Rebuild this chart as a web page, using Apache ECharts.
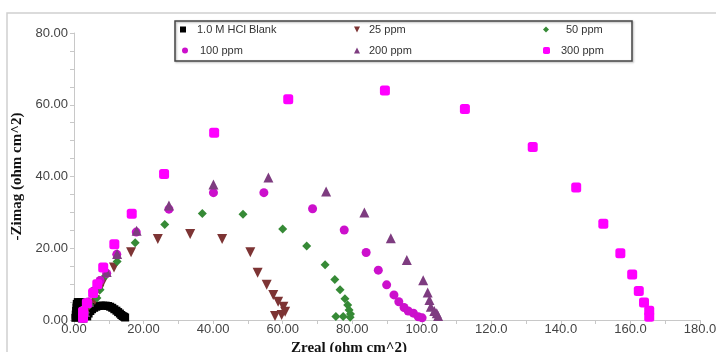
<!DOCTYPE html>
<html>
<head>
<meta charset="utf-8">
<title>Nyquist</title>
<script src="https://cdn.jsdelivr.net/npm/echarts@6/dist/echarts.min.js"></script>
<style>
    html, body { margin: 0; padding: 0; background: #fff; }
    #main { width: 716px; height: 352px; }
</style>
</head>
<body>
<div id="main"></div>
<script>
// 系列名称
var seriesNames = ['1.0 M HCl Blank', '25 ppm', '50 ppm', '100 ppm', '200 ppm', '300 ppm'];

// [Zreal, -Zimag]
var blank = [
    [0.4, 0.6], [0.5, 1.5], [0.6, 2.5], [0.7, 3.5], [0.8, 4.5], [1.1, 5.0], [1.9, 5.0],
    [3.8, 1.0], [4.2, 1.8], [4.7, 2.5], [5.2, 3.0], [5.8, 3.4], [6.4, 3.7], [7.0, 3.9],
    [7.7, 4.0], [8.4, 4.0], [9.1, 4.0], [9.8, 3.9], [10.4, 3.7], [11.0, 3.4], [11.6, 3.0],
    [12.2, 2.6], [12.7, 2.2], [13.2, 1.8], [13.6, 1.4], [14.0, 1.1], [14.4, 0.9], [14.7, 0.7]
];
var ppm25 = [
    [2.6, 0.5], [3.5, 2.5], [4.8, 4.5], [6.0, 5.6], [7.3, 8.4], [8.4, 10.7], [11.5, 14.6],
    [16.4, 18.9], [24.1, 22.6], [33.4, 24.0], [42.6, 22.6], [50.7, 18.9], [52.8, 13.2],
    [55.4, 9.8], [57.3, 7.0], [58.7, 5.1], [60.2, 3.7], [60.7, 2.3], [59.7, 1.4], [57.8, 1.1]
];
var ppm50 = [
    [2.6, 0.5], [3.3, 2.0], [4.5, 4.2], [6.6, 6.1], [7.5, 8.4], [9.1, 12.3], [12.4, 16.3],
    [17.6, 21.5], [26.1, 26.6], [36.9, 29.7], [48.6, 29.5], [60.0, 25.4], [66.9, 20.6],
    [72.2, 15.4], [75.0, 11.3], [76.5, 8.4], [77.9, 5.9], [78.7, 4.2], [79.1, 2.8],
    [79.5, 1.7], [79.4, 0.8], [77.4, 1.0], [75.3, 1.0]
];
var ppm100 = [
    [2.5, 0.5], [3.0, 2.0], [4.0, 5.0], [5.5, 8.0], [7.5, 11.0], [9.4, 13.0], [12.3, 18.3],
    [17.9, 24.5], [27.3, 30.9], [40.1, 35.5], [54.6, 35.5], [68.6, 31.0], [77.7, 25.1],
    [84.0, 18.8], [87.5, 13.9], [89.9, 9.8], [92.0, 7.0], [93.4, 5.1], [94.9, 3.5],
    [96.1, 2.5], [97.6, 1.9], [99.0, 0.9], [100.1, 0.6]
];
var ppm200 = [
    [2.5, 0.6], [3.2, 2.2], [4.3, 5.0], [6.0, 9.0], [9.4, 13.4], [12.4, 18.4], [18.0, 24.9],
    [27.3, 31.9], [40.1, 37.8], [55.9, 39.7], [72.5, 35.8], [83.5, 30.0], [91.1, 22.8],
    [95.7, 16.7], [100.4, 11.1], [101.7, 7.7], [102.2, 5.6], [102.6, 3.7], [103.6, 2.5],
    [104.3, 1.9], [104.7, 1.1]
];
var ppm300 = [
    [2.6, 0.6], [2.6, 2.3], [3.7, 4.7], [5.5, 7.5], [6.7, 10.0], [8.4, 14.6], [11.6, 21.1],
    [16.6, 29.6], [25.9, 40.7], [40.3, 52.2], [61.6, 61.5], [89.4, 64.0], [112.4, 58.8],
    [131.9, 48.2], [144.4, 36.9], [152.2, 26.8], [157.1, 18.6], [160.5, 12.7], [162.4, 8.1],
    [163.9, 4.9], [165.4, 2.6], [165.4, 0.9]
];

var seriesData = [blank, ppm25, ppm50, ppm100, ppm200, ppm300];
var colors = ['#000000', '#7d3434', '#368a36', '#cc10cc', '#7e3c80', '#ff00ff'];
var symbols = ['rect', 'triangle', 'diamond', 'circle', 'triangle', 'roundRect'];
var sizes = [8, 10, 9, 9, 10, 10];
var rotates = [0, 180, 0, 0, 0, 0];
// 图例小图标
var legendIcons = ['rect', 'path://M0,0 L10,0 L5,10 Z', 'diamond', 'circle', 'triangle', 'roundRect'];
var legendPos = [[180, 24], [354, 24], [543, 24], [182, 45], [354, 45], [543, 45]];
var legendTextPad = [[0, 0, 0, 6], [0, 0, 0, 4], [0, 0, 0, 12], [0, 0, 0, 7], [0, 0, 0, 4], [0, 0, 0, 6]];

var myChart = echarts.init(document.getElementById('main'));

var series = [];
var legends = [];
for (var i = 0; i < seriesNames.length; i++) {
    series.push({
        name: seriesNames[i],
        type: 'scatter',
        data: seriesData[i],
        symbol: symbols[i],
        symbolSize: sizes[i],
        symbolRotate: rotates[i],
        itemStyle: { color: colors[i], opacity: 1 }
    });
    legends.push({
        left: legendPos[i][0],
        top: legendPos[i][1],
        itemWidth: i == 5 ? 7 : 6,
        itemHeight: i == 5 ? 7 : 6,
        padding: 0,
        selectedMode: false,
        data: [{ name: seriesNames[i], icon: legendIcons[i] }],
        textStyle: {
            fontFamily: 'Liberation Sans',
            fontSize: 11,
            color: '#333',
            padding: legendTextPad[i]
        }
    });
}

function tickFmt(v) {
    return v < 100 ? v.toFixed(2) : v.toFixed(1);
}

var option = {
    backgroundColor: '#fff',
    animation: false,
    grid: {
        left: 74,
        right: 16,
        top: 33,
        bottom: 32,
        outerBoundsMode: 'none'
    },
    legend: legends,
    graphic: [{
        // 外框
        type: 'rect',
        shape: { x: 7, y: 13, width: 720, height: 360 },
        style: { fill: 'none', stroke: '#d0d0d0', lineWidth: 1.5 },
        silent: true
    }, {
        // 图例框
        type: 'rect',
        shape: { x: 175, y: 21, width: 457, height: 40 },
        style: { fill: 'none', stroke: '#444', lineWidth: 1.5, shadowColor: 'rgba(0,0,0,0.3)', shadowBlur: 2, shadowOffsetX: 1, shadowOffsetY: 1 },
        z: 10,
        silent: true
    }],
    xAxis: {
        type: 'value',
        min: 0,
        max: 180,
        interval: 20,
        name: 'Zreal (ohm cm^2)',
        nameLocation: 'middle',
        nameGap: 21,
        nameTextStyle: {
            fontFamily: 'Liberation Serif',
            fontWeight: 'bold',
            fontSize: 15,
            color: '#111',
            padding: [0, 76, 0, 0]
        },
        axisLine: { show: true, lineStyle: { color: '#c8c8c8' } },
        axisTick: { show: true, length: 4, lineStyle: { color: '#c8c8c8' } },
        minorTick: { show: true, splitNumber: 2, length: 4, lineStyle: { color: '#c8c8c8' } },
        splitLine: { show: false },
        axisLabel: {
            margin: 3,
            fontFamily: 'Liberation Sans',
            fontSize: 13,
            color: '#444',
            formatter: tickFmt
        }
    },
    yAxis: {
        type: 'value',
        min: 0,
        max: 80,
        interval: 20,
        name: '-Zimag (ohm cm^2)',
        nameLocation: 'middle',
        nameGap: 49,
        nameTextStyle: {
            fontFamily: 'Liberation Serif',
            fontWeight: 'bold',
            fontSize: 15,
            color: '#111'
        },
        axisLine: { show: true, lineStyle: { color: '#c8c8c8' } },
        axisTick: { show: true, length: 4, lineStyle: { color: '#c8c8c8' } },
        minorTick: { show: true, splitNumber: 4, length: 4, lineStyle: { color: '#c8c8c8' } },
        splitLine: { show: false },
        axisLabel: {
            margin: 6,
            fontFamily: 'Liberation Sans',
            fontSize: 13,
            color: '#444',
            formatter: tickFmt
        }
    },
    series: series
};

myChart.setOption(option);
</script>
</body>
</html>
